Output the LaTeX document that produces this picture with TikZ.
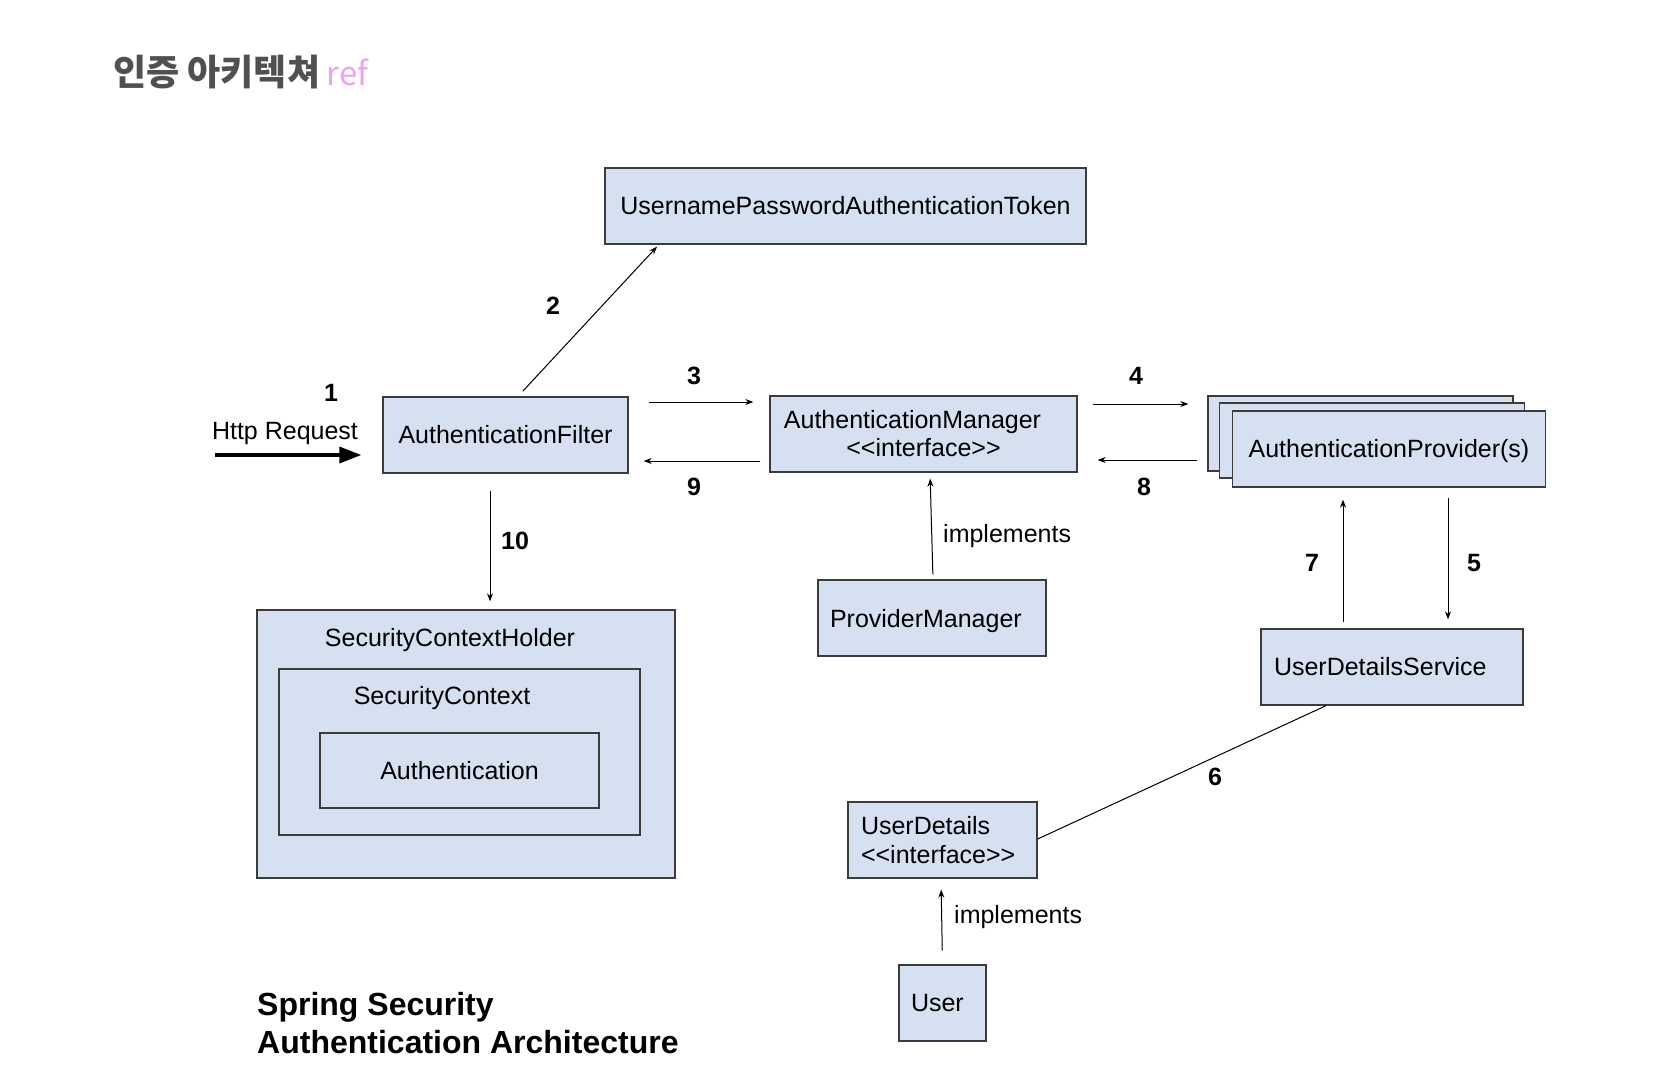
\documentclass[tikz,border=0pt]{standalone}
\usepackage{fontspec}
\setmainfont{Liberation Sans}
\newfontfamily\kofont{Noto Sans CJK KR}
\usetikzlibrary{positioning, arrows.meta}
\definecolor{boxfill}{RGB}{213,225,241}
\definecolor{boxline}{RGB}{60,60,60}
\definecolor{titlegray}{RGB}{80,80,80}
\definecolor{refpink}{RGB}{240,162,240}

\begin{document}
\begin{tikzpicture}[x=1pt, y=-1pt,
	box/.style={draw=boxline, fill=boxfill, line width=1.3pt, inner sep=0pt, minimum height=76pt, font=\fontsize{25}{28}\selectfont},
	txt/.style={inner sep=0pt, font=\fontsize{25}{28}\selectfont},
	num/.style={inner sep=0pt, font=\bfseries\fontsize{25}{28}\selectfont},
	arr/.style={-{Stealth[length=8pt, width=6pt]}, line width=1pt},
	bigarr/.style={-{Triangle[length=22pt, width=16pt]}, line width=3.5pt}]
	\fill[white] (0,0) rectangle (1670,1080);
	% title
	\node[anchor=west, inner sep=0pt, text=titlegray, font=\kofont\bfseries\fontsize{36}{42}\selectfont] (title) at (113,72) {인증 아키텍쳐};
	\node[anchor=base west, inner sep=0pt, text=refpink, font=\kofont\fontsize{33}{38}\selectfont] (ref) at ([xshift=6pt]title.base east) {ref};
	% boxes
	\node[box, minimum width=481pt] (token) at (845.5,206) {UsernamePasswordAuthenticationToken};
	\node[box, minimum width=245pt] (filter) at (505.5,435) {AuthenticationFilter};
	\node[box, minimum width=307pt, align=center] (manager) at (923.5,434) {AuthenticationManager\hspace*{22pt}\\<\kern0pt<interface>\kern0pt>};
	\foreach \x/\y [count=\p] in {1360.5/433.5, 1372/440.5} {
		\node[box, minimum width=305pt, minimum height=75pt] (prov\p) at (\x,\y) {};
	};
	\node[box, minimum width=313pt, text depth=2pt] (prov) at (1389,449) {AuthenticationProvider(s)};
	\node[box, minimum width=228pt, text width=204pt, align=left, text depth=0pt] (provmgr) at (932,618) {ProviderManager};
	\node[box, minimum width=262pt, text width=236pt, align=left] (uds) at (1392,667) {UserDetailsService};
	\node[box, minimum width=189pt, text width=163pt, align=left, font=\fontsize{25}{29}\selectfont] (details) at (942.5,840) {UserDetails\\<\kern0pt<interface>\kern0pt>};
	\node[box, minimum width=87pt, text width=63pt, align=left] (user) at (942.5,1003) {User};
	% security context
	\node[box, minimum width=418pt, minimum height=268pt] (holder) at (466,744) {};
	\node[box, minimum width=361pt, minimum height=166pt] (context) at (459.5,752) {};
	\node[box, minimum width=279pt, minimum height=75pt] (auth) at (459.5,770.5) {Authentication};
	\node[txt] (holderlbl) at (450,640) {SecurityContextHolder};
	\node[txt] (contextlbl) at (442,698) {SecurityContext};
	% request
	\coordinate (httpin) at (215,455);
	\node[txt] (httplbl) at (285,433) {Http Request};
	\draw[bigarr] (httpin) -- ([xshift=-21pt, yshift=-20pt]filter.west);
	% connectors
	\draw[arr, shorten <=7pt] ([xshift=12.5pt]filter.north) -- ([xshift=-188.5pt, yshift=-2pt]token.south);
	\draw[arr, shorten <=20pt, shorten >=16pt] ([yshift=33pt]filter.east) -- ([yshift=32pt]manager.west);
	\draw[arr, shorten <=9pt, shorten >=15pt] ([yshift=-27pt]manager.west) -- ([yshift=-26pt]filter.east);
	\draw[arr, shorten <=15pt, shorten >=19pt] ([yshift=30pt]manager.east) -- ([yshift=29.5pt]prov1.west);
	\draw[arr, shorten <=10pt, shorten >=20pt] ([yshift=-26.5pt]prov1.west) -- ([yshift=-26pt]manager.east);
	\draw[arr, shorten <=17pt, shorten >=8pt] ([xshift=-15.5pt]filter.south) -- ([xshift=24pt]holder.north);
	\draw[arr, shorten <=5pt, shorten >=6pt] ([xshift=1pt]provmgr.north) -- ([xshift=6.5pt]manager.south);
	\draw[arr, shorten <=10pt, shorten >=9pt] ([xshift=59pt]prov.south) -- ([xshift=56pt]uds.north);
	\draw[arr, shorten <=6pt, shorten >=12pt] ([xshift=-49pt]uds.north) -- ([xshift=-46pt]prov.south);
	\draw[line width=1pt] ([xshift=-66pt]uds.south) -- ([yshift=1pt]details.east);
	\draw[arr, shorten <=14pt, shorten >=11pt] (user.north) -- ([xshift=-1.5pt]details.south);
	% step numbers
	\node[num] (n1) at (331,393) {1};
	\node[num] (n2) at (553,306) {2};
	\node[num] (n3) at (694,376) {3};
	\node[num] (n4) at (1136,376) {4};
	\node[num] (n5) at (1474,563) {5};
	\node[num] (n6) at (1215,777) {6};
	\node[num] (n7) at (1312,563) {7};
	\node[num] (n8) at (1144,487) {8};
	\node[num] (n9) at (694,487) {9};
	\node[num] (n10) at (515,541) {10};
	\node[txt, anchor=west] (impl1) at (943,536) {implements};
	\node[txt, anchor=west] (impl2) at (954,917) {implements};
	% caption
	\node[anchor=north west, inner sep=0pt, align=left, font=\bfseries\fontsize{32}{38}\selectfont] (caption) at (257,992) {Spring Security\\Authentication Architecture};
\end{tikzpicture}
\end{document}
